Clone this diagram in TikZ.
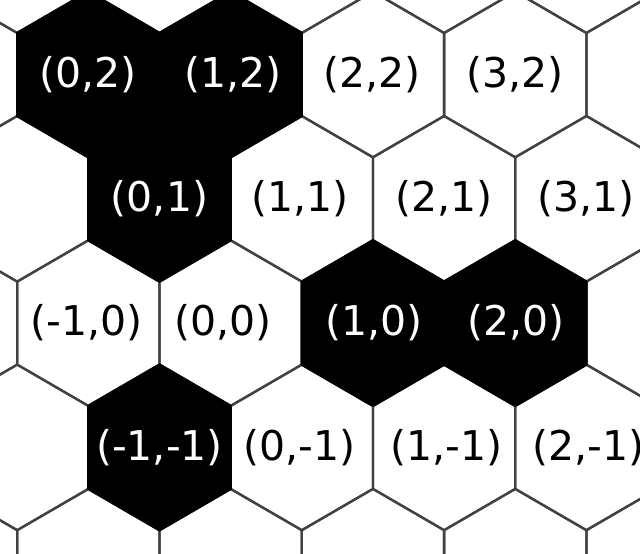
\documentclass[tikz,border=0pt]{standalone}
\usepackage{fontspec}
\setmainfont{DejaVu Sans}
\begin{document}
\begin{tikzpicture}[x=1pt,y=-1pt,
  hexline/.style={draw=black!74, line width=2.3pt, line join=miter},
  hexblack/.style={fill=black, draw=black, line width=2.3pt},
  lbl/.style={inner sep=0pt, font=\fontsize{41}{41}\selectfont},
  lblw/.style={lbl, text=black},
  lblb/.style={lbl, text=white}]
\useasboundingbox (0,0) rectangle (640,554);
\clip (0,0) rectangle (640,554);
\fill[white] (0,0) rectangle (640,554);
\def\W{71.15}\def\H{41.5}\def\R{82.8}
% grid outlines
\foreach \q in {-4,...,5}{
  \foreach \r in {-2,...,3}{
    \pgfmathsetmacro\cx{88.35+142.3*\q+71.15*(2-\r)}
    \pgfmathsetmacro\cy{74.5+124.3*(2-\r)}
    \draw[hexline, shift={(\cx,\cy)}] (0,-\R) -- (\W,-\H) -- (\W,\H) -- (0,\R) -- (-\W,\H) -- (-\W,-\H) -- cycle;
  }
}
% black cells
\foreach \q/\r in {0/2,1/2,0/1,1/0,2/0,-1/-1}{
  \pgfmathsetmacro\cx{88.35+142.3*\q+71.15*(2-\r)}
  \pgfmathsetmacro\cy{74.5+124.3*(2-\r)}
  \filldraw[hexblack, shift={(\cx,\cy)}] (0,-\R) -- (\W,-\H) -- (\W,\H) -- (0,\R) -- (-\W,\H) -- (-\W,-\H) -- cycle;
}
% labels on black cells
\foreach \q/\r/\nm/\dx in {0/2/la/0,1/2/lb/2,0/1/lc/0,1/0/ld/1,2/0/le/1,-1/-1/lf/0}{
  \pgfmathsetmacro\cx{88.35+142.3*\q+71.15*(2-\r)+\dx}
  \pgfmathsetmacro\cy{74.5+124.3*(2-\r)}
  \node[lblb] (\nm) at (\cx,\cy) {(\q,\r)};
}
% labels on white cells
\foreach \q/\r/\nm/\dx in {2/2/lg/-1,3/2/lh/0,1/1/li/-2,2/1/lj/0,3/1/lk/0,-1/0/ll/-2,0/0/lm/-8,0/-1/ln/-2,1/-1/lo/2,2/-1/lp/2}{
  \pgfmathsetmacro\cx{88.35+142.3*\q+71.15*(2-\r)+\dx}
  \pgfmathsetmacro\cy{74.5+124.3*(2-\r)}
  \node[lblw] (\nm) at (\cx,\cy) {(\q,\r)};
}
\end{tikzpicture}
\end{document}
